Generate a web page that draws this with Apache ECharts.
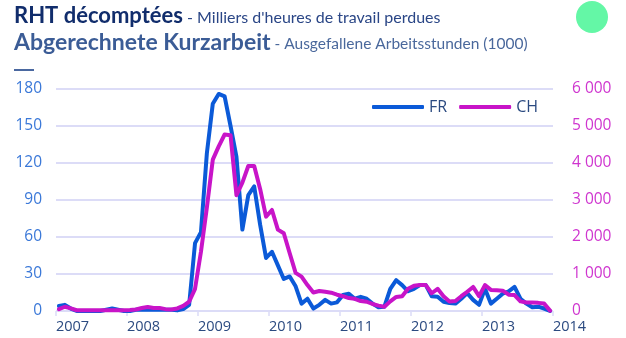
<!DOCTYPE html>
<html>
<head>
<meta charset="utf-8">
<script src="https://cdn.jsdelivr.net/npm/echarts@6/dist/echarts.min.js"></script>
<style>
  html, body { margin: 0; padding: 0; background: #ffffff; }
  #chart { width: 626px; height: 338px; }
</style>
</head>
<body>
<div id="chart"></div>
<script>
// Monthly series, January 2007 to December 2013
const firstYear = 2007;
const lastYear = 2013;
const yearTicks = ['2007', '2008', '2009', '2010', '2011', '2012', '2013', '2014'];

// France: thousands of hours lost (left axis)
const FR = [
  4, 5, 2, 0, 0, 0, 0, 0, 1, 2, 1, 0,                 // 2007
  0, 1, 1, 1, 1, 1, 1, 1, 0.5, 1.5, 5, 55,            // 2008
  64, 128, 168, 176, 174, 150, 125, 66, 94, 101, 70, 43, // 2009
  48, 37, 26, 28, 20, 6, 10, 2, 5, 9, 6, 7,           // 2010
  13, 14, 10, 11.5, 10, 6, 3, 3.5, 18, 25, 21, 16,    // 2011
  18, 21, 21, 12, 11.5, 7.5, 6.5, 6, 10, 14.5, 9, 5,  // 2012
  18, 6, 10, 14, 16, 19.5, 10, 6, 3, 3.5, 2, 0        // 2013
];

// Switzerland: thousands of hours lost (right axis)
const CH = [
  50, 115, 70, 20, 20, 20, 20, 20, 20, 20, 20, 20,             // 2007
  25, 40, 80, 110, 80, 80, 50, 40, 70, 140, 250, 600,          // 2008
  1600, 2800, 4090, 4450, 4770, 4750, 3130, 3470, 3920, 3920, 3300, 2550, // 2009
  2730, 2200, 2100, 1560, 1030, 930, 700, 500, 540, 520, 495, 440, // 2010
  400, 350, 330, 270, 250, 190, 145, 115, 260, 380, 400, 600,  // 2011
  680, 700, 700, 480, 600, 400, 260, 270, 400, 520, 650, 400,  // 2012
  700, 570, 560, 550, 440, 430, 260, 230, 230, 220, 200, 10    // 2013
];

// Each monthly value sits in the middle of its month on a year scale
function monthPos(i) {
  return firstYear + (i + 0.5) / 12;
}
const frData = FR.map((v, i) => [monthPos(i), v]);
const chData = CH.map((v, i) => [monthPos(i), v]);

const BLUE = '#0b5ad8';
const MAGENTA = '#c814c8';
const NAVY = '#2b4a80';
const GRID = '#dcdcf7';
const FONT = '"Open Sans", "Noto Sans", sans-serif';
const TITLE_FONT = 'Lato, "Open Sans", sans-serif';

function spaced(v) {
  return String(v).replace(/\B(?=(\d{3})+(?!\d))/g, ' ');
}

const chart = echarts.init(document.getElementById('chart'), null, { renderer: 'canvas' });
chart.setOption({
  animation: false,
  backgroundColor: '#ffffff',
  title: [
    {
      left: 14, top: 5, padding: 0,
      text: '{a|RHT décomptées}{b| - Milliers d\'heures de travail perdues}',
      textStyle: {
        rich: {
          a: { fontFamily: TITLE_FONT, fontWeight: 'bold', fontSize: 22, color: '#112d6c' },
          b: { fontFamily: TITLE_FONT, fontWeight: 'normal', fontSize: 16, color: '#2a4686', padding: [3, 0, 0, 0] }
        }
      }
    },
    {
      left: 14, top: 31, padding: 0,
      text: '{a|Abgerechnete Kurzarbeit}{b| - Ausgefallene Arbeitsstunden (1000)}',
      textStyle: {
        rich: {
          a: { fontFamily: TITLE_FONT, fontWeight: 'bold', fontSize: 23, color: '#3b5c96' },
          b: { fontFamily: TITLE_FONT, fontWeight: 'normal', fontSize: 15.5, color: '#4a689c', padding: [3, 0, 0, 0] }
        }
      }
    }
  ],
  graphic: [
    { type: 'circle', shape: { cx: 592, cy: 17, r: 16 }, style: { fill: '#64f7a6' } },
    { type: 'rect', shape: { x: 14, y: 69, width: 20, height: 2 }, style: { fill: '#4a68a0' } }
  ],
  legend: {
    left: 372, top: 99, padding: 0,
    itemWidth: 52, itemHeight: 4, itemGap: 12,
    icon: 'roundRect',
    textStyle: { fontFamily: FONT, fontSize: 16, color: NAVY },
    data: ['FR', 'CH']
  },
  grid: { left: 56, right: 73, top: 89, bottom: 27 },
  xAxis: {
    type: 'value',
    min: firstYear,
    max: lastYear + 1,
    interval: 1,
    axisLine: { show: false },
    axisTick: { show: true, length: 5, lineStyle: { color: GRID, width: 1.5 } },
    splitLine: { show: false },
    axisLabel: {
      align: 'left',
      margin: 8,
      fontFamily: FONT, fontSize: 14.5, color: NAVY,
      showMaxLabel: true,
      formatter: v => yearTicks[Math.round(v) - firstYear]
    }
  },
  yAxis: [
    {
      type: 'value', min: 0, max: 180, interval: 30,
      axisLine: { show: false }, axisTick: { show: false },
      splitLine: { lineStyle: { color: GRID, width: 2 } },
      axisLabel: { margin: 14, fontFamily: FONT, fontSize: 15.5, color: '#3a78d8' }
    },
    {
      type: 'value', min: 0, max: 6000, interval: 1000,
      axisLine: { show: false }, axisTick: { show: false },
      splitLine: { show: false },
      axisLabel: { margin: 19, fontFamily: FONT, fontSize: 15.5, color: '#cf35cf', formatter: spaced }
    }
  ],
  series: [
    {
      name: 'FR', type: 'line', yAxisIndex: 0, data: frData,
      showSymbol: false, symbol: 'none',
      itemStyle: { color: BLUE },
      lineStyle: { color: BLUE, width: 4, cap: 'round', join: 'round' }
    },
    {
      name: 'CH', type: 'line', yAxisIndex: 1, data: chData,
      showSymbol: false, symbol: 'none',
      itemStyle: { color: MAGENTA },
      lineStyle: { color: MAGENTA, width: 4, cap: 'round', join: 'round' }
    }
  ]
});
</script>
</body>
</html>
